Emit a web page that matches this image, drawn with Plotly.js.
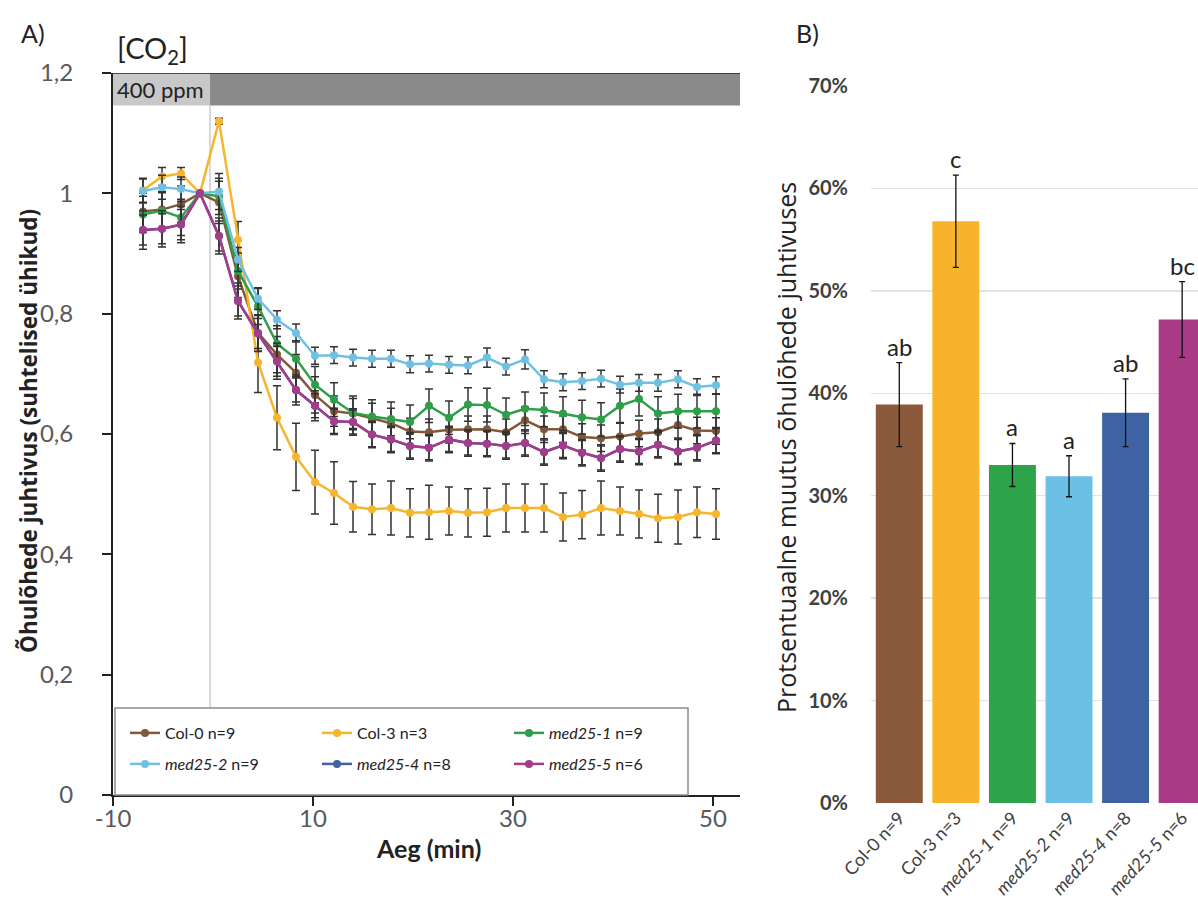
<!DOCTYPE html>
<html>
<head>
<meta charset="utf-8">
<script src="https://cdn.plot.ly/plotly-3.0.1.min.js"></script>
<style>html,body{margin:0;padding:0;background:#fff;}#chart{width:1198px;height:910px;}</style>
</head>
<body>
<div id="chart"></div>
<script>
// ---------- Panel A data ----------
const times = [-7.0,-5.1,-3.2,-1.3,0.6,2.5,4.5,6.4,8.3,10.2,12.1,14.0,15.9,17.8,19.7,21.6,23.6,25.5,27.4,29.3,31.2,33.1,35.0,36.9,38.8,40.7,42.6,44.5,46.5,48.4,50.3];
const seriesNames = ["Col-0 n=9","Col-3 n=3","<i>med25-1</i> n=9","<i>med25-2</i> n=9","<i>med25-4</i> n=8","<i>med25-5</i> n=6"];
const col0 = [0.970,0.973,0.982,1.000,0.985,0.862,0.768,0.732,0.702,0.665,0.638,0.634,0.626,0.618,0.604,0.603,0.607,0.608,0.608,0.603,0.623,0.608,0.608,0.595,0.593,0.596,0.601,0.603,0.615,0.606,0.605];
const col0Err = [0.03,0.03,0.03,0,0.035,0.035,0.03,0.03,0.03,0.03,0.025,0.025,0.025,0.025,0.022,0.022,0.022,0.022,0.022,0.022,0.022,0.022,0.022,0.022,0.022,0.022,0.022,0.022,0.022,0.022,0.022];
const col3 = [1.005,1.028,1.033,1.000,1.120,0.923,0.719,0.627,0.562,0.520,0.502,0.479,0.475,0.477,0.469,0.470,0.472,0.469,0.470,0.477,0.477,0.477,0.462,0.466,0.477,0.472,0.467,0.460,0.462,0.470,0.467];
const col3Err = [0.02,0.015,0.01,0,0.005,0.03,0.05,0.053,0.056,0.053,0.052,0.042,0.042,0.045,0.040,0.045,0.040,0.040,0.040,0.040,0.040,0.040,0.040,0.040,0.045,0.040,0.040,0.040,0.045,0.042,0.042];
const med1 = [0.965,0.971,0.960,1.000,0.995,0.871,0.812,0.750,0.725,0.682,0.657,0.635,0.629,0.625,0.620,0.647,0.627,0.649,0.648,0.632,0.642,0.640,0.634,0.628,0.624,0.647,0.658,0.634,0.638,0.638,0.638];
const med1Err = [0.03,0.03,0.03,0,0.03,0.03,0.03,0.03,0.03,0.03,0.028,0.028,0.028,0.028,0.028,0.028,0.028,0.028,0.028,0.028,0.028,0.028,0.028,0.028,0.028,0.028,0.028,0.028,0.028,0.028,0.028];
const med2 = [1.004,1.010,1.007,1.000,1.003,0.890,0.825,0.790,0.768,0.730,0.731,0.727,0.725,0.725,0.716,0.717,0.715,0.714,0.727,0.712,0.724,0.691,0.686,0.688,0.692,0.682,0.685,0.685,0.691,0.678,0.681];
const med2Err = [0.02,0.02,0.02,0,0.03,0.02,0.018,0.015,0.015,0.014,0.014,0.014,0.014,0.014,0.014,0.014,0.014,0.014,0.016,0.014,0.016,0.014,0.014,0.014,0.014,0.014,0.014,0.014,0.014,0.014,0.014];
const med4 = [0.939,0.941,0.948,1.000,0.929,0.821,0.767,0.721,0.673,0.647,0.621,0.620,0.599,0.591,0.580,0.577,0.591,0.585,0.584,0.580,0.585,0.570,0.581,0.569,0.560,0.575,0.571,0.582,0.571,0.577,0.589];
const med4Err = [0.025,0.025,0.025,0,0.025,0.025,0.025,0.025,0.02,0.02,0.02,0.02,0.02,0.02,0.02,0.02,0.02,0.02,0.02,0.02,0.02,0.02,0.02,0.02,0.02,0.02,0.02,0.02,0.02,0.02,0.02];
const med5 = [0.939,0.941,0.948,1.000,0.929,0.821,0.767,0.721,0.673,0.647,0.621,0.620,0.599,0.591,0.580,0.577,0.591,0.585,0.584,0.580,0.585,0.570,0.581,0.569,0.560,0.575,0.571,0.582,0.571,0.577,0.589];
const med5Err = [0.032,0.03,0.03,0,0.03,0.03,0.03,0.03,0.025,0.025,0.022,0.022,0.022,0.022,0.022,0.022,0.022,0.022,0.022,0.022,0.022,0.022,0.022,0.022,0.022,0.022,0.022,0.022,0.022,0.022,0.022];
const yTickVals = [0,0.2,0.4,0.6,0.8,1,1.2];
const yTickText = ["0","0,2","0,4","0,6","0,8","1","1,2"];
const xTickVals = [-10,10,30,50];
const xTickText = ["-10","10","30","50"];

// ---------- Panel B data ----------
const barCats = ["Col-0 n=9","Col-3 n=3","<i>med25-1</i> n=9","<i>med25-2</i> n=9","<i>med25-4</i> n=8","<i>med25-5</i> n=6"];
const barVals = [38.9,56.8,33.0,31.9,38.1,47.2];
const barErr = [4.1,4.5,2.1,2.0,3.3,3.7];
const barLetters = ["ab","c","a","a","ab","bc"];
const barTickVals = [0,10,20,30,40,50,60,70];
const barTickText = ["0%","10%","20%","30%","40%","50%","60%","70%"];
const barColors = ["#8b5a3c","#f7b32b","#2ea44a","#6dc0e5","#3f63a2","#a93b86"];
const lineColors = ["#83573a","#f6b52d","#2e9e48","#70c0e4","#3f62a3","#a33c8c"];

const W = 1198, H = 910;
const px = v => v / W;
const py = v => 1 - v / H;
const FONT = 'Lato, "Open Sans", sans-serif';
const WIDE = '"Open Sans", Lato, sans-serif';

const lineY = [col0,col3,med1,med2,med4,med5];
const lineE = [col0Err,col3Err,med1Err,med2Err,med4Err,med5Err];
const traces = [];
for (let i = 0; i < 6; i++) {
  traces.push({
    type: 'scatter', mode: 'lines+markers', x: times, y: lineY[i],
    name: seriesNames[i], xaxis: 'x', yaxis: 'y',
    legend: i < 3 ? 'legend' : 'legend2',
    line: {color: lineColors[i], width: 2.5},
    marker: {color: lineColors[i], size: 8},
    error_y: {type: 'data', array: lineE[i], visible: true, color: '#333333', thickness: 1.5, width: 4}
  });
}
traces.push({
  type: 'bar', x: [0,1,2,3,4,5], y: barVals, xaxis: 'x2', yaxis: 'y2', showlegend: false,
  marker: {color: barColors}, width: 0.83,
  error_y: {type: 'data', array: barErr, visible: true, color: '#111', thickness: 1.3, width: 3}
});

const annotations = [
  {xref:'paper', yref:'paper', x:px(19), y:py(33), xanchor:'left', yanchor:'middle', text:'A)', showarrow:false, font:{family:FONT,size:25,color:'#222'}},
  {xref:'paper', yref:'paper', x:px(794), y:py(33), xanchor:'left', yanchor:'middle', text:'B)', showarrow:false, font:{family:FONT,size:25,color:'#222'}},
  {xref:'paper', yref:'paper', x:px(115), y:py(49), xanchor:'left', yanchor:'middle', text:'[CO<sub>2</sub>]', showarrow:false, font:{family:FONT,size:29,color:'#222'}},
  {xref:'paper', yref:'paper', x:px(115), y:py(90), xanchor:'left', yanchor:'middle', text:'400 ppm', showarrow:false, font:{family:FONT,size:22,color:'#222'}},
  {xref:'paper', yref:'paper', x:px(28), y:py(431), xanchor:'center', yanchor:'middle', textangle:-90, text:'<b>Õhulõhede juhtivus (suhtelised ühikud)</b>', showarrow:false, font:{family:WIDE,size:22.5,color:'#222'}},
  {xref:'paper', yref:'paper', x:px(428), y:py(848), xanchor:'center', yanchor:'middle', text:'<b>Aeg (min)</b>', showarrow:false, font:{family:FONT,size:25,color:'#222'}},
  {xref:'paper', yref:'paper', x:px(786), y:py(448), xanchor:'center', yanchor:'middle', textangle:-90, text:'Protsentuaalne muutus õhulõhede juhtivuses', showarrow:false, font:{family:WIDE,size:25,color:'#222'}}
];
for (let i = 0; i < 6; i++) {
  annotations.push({xref:'x2', yref:'y2', x:i, y:barVals[i]+barErr[i], yanchor:'bottom', xanchor:'center', text:barLetters[i], showarrow:false, font:{family:FONT,size:24,color:'#222'}});
}

const shapes = [
  {type:'rect', xref:'x', yref:'y', x0:-10, x1:-0.3, y0:1.146, y1:1.2, fillcolor:'#c8c8c8', line:{width:0}, layer:'below'},
  {type:'rect', xref:'x', yref:'y', x0:-0.3, x1:52.7, y0:1.146, y1:1.2, fillcolor:'#8a8a8a', line:{width:0}, layer:'below'},
  {type:'line', xref:'x', yref:'y', x0:-10, x1:52.7, y0:1.2, y1:1.2, line:{color:'#222', width:1.5}},
  {type:'line', xref:'x', yref:'y', x0:-0.3, x1:-0.3, y0:0.145, y1:1.146, line:{color:'#d9d9d9', width:2}, layer:'below'},
  {type:'rect', xref:'paper', yref:'paper', x0:px(115), x1:px(688), y0:py(795), y1:py(708), fillcolor:'#ffffff', line:{color:'#8c8c8c', width:1.5}, layer:'above'}
];

const layout = {
  width: W, height: H, margin: {l:0, r:0, t:0, b:0},
  paper_bgcolor: '#fff', plot_bgcolor: 'rgba(0,0,0,0)',
  font: {family: FONT, color: '#222'},
  showlegend: true,
  xaxis: {domain:[px(113), px(740)], range:[-10,52.7], tickvals:xTickVals, ticktext:xTickText,
    showline:true, linecolor:'#222', linewidth:2, ticks:'outside', ticklen:9, tickwidth:2, tickcolor:'#222',
    showgrid:false, zeroline:false, tickfont:{family:FONT,size:24,color:'#595959'}, ticklabelstandoff:-8, automargin:false, fixedrange:true},
  yaxis: {domain:[py(795), py(73)], range:[0,1.2], tickvals:yTickVals, ticktext:yTickText,
    showline:true, linecolor:'#222', linewidth:2, ticks:'outside', ticklen:9, tickwidth:2, tickcolor:'#222',
    showgrid:false, zeroline:false, tickfont:{family:FONT,size:24,color:'#595959'}, ticklabelstandoff:24, automargin:false, fixedrange:true},
  xaxis2: {domain:[px(871), 1], range:[-0.5,5.28], type:'linear', tickvals:[0,1,2,3,4,5], ticktext:barCats,
    tickangle:-47, showline:false, ticks:'', showgrid:false, zeroline:false,
    tickfont:{family:FONT,size:18,color:'#404040'}, automargin:false, anchor:'y2', fixedrange:true},
  yaxis2: {domain:[py(803), py(86)], range:[0,70], tickvals:barTickVals, ticktext:barTickText,
    showline:false, ticks:'', showgrid:true, gridcolor:'#e2e2e2', gridwidth:1.5, zeroline:false,
    tickfont:{family:FONT,size:20,color:'#404040', weight:'bold'}, ticklabelstandoff:22, automargin:false, anchor:'x2', fixedrange:true},
  legend: {orientation:'h', x:px(125), xanchor:'left', y:py(733), yanchor:'middle', bgcolor:'rgba(0,0,0,0)', borderwidth:0,
    entrywidth:147, entrywidthmode:'pixels', font:{family:FONT,size:16,color:'#222'}, itemclick:false, itemdoubleclick:false},
  legend2: {orientation:'h', x:px(125), xanchor:'left', y:py(764), yanchor:'middle', bgcolor:'rgba(0,0,0,0)', borderwidth:0,
    entrywidth:147, entrywidthmode:'pixels', font:{family:FONT,size:16,color:'#222'}, itemclick:false, itemdoubleclick:false},
  annotations: annotations,
  shapes: shapes
};

Plotly.newPlot('chart', traces, layout, {displayModeBar:false, staticPlot:true});
</script>
</body>
</html>
